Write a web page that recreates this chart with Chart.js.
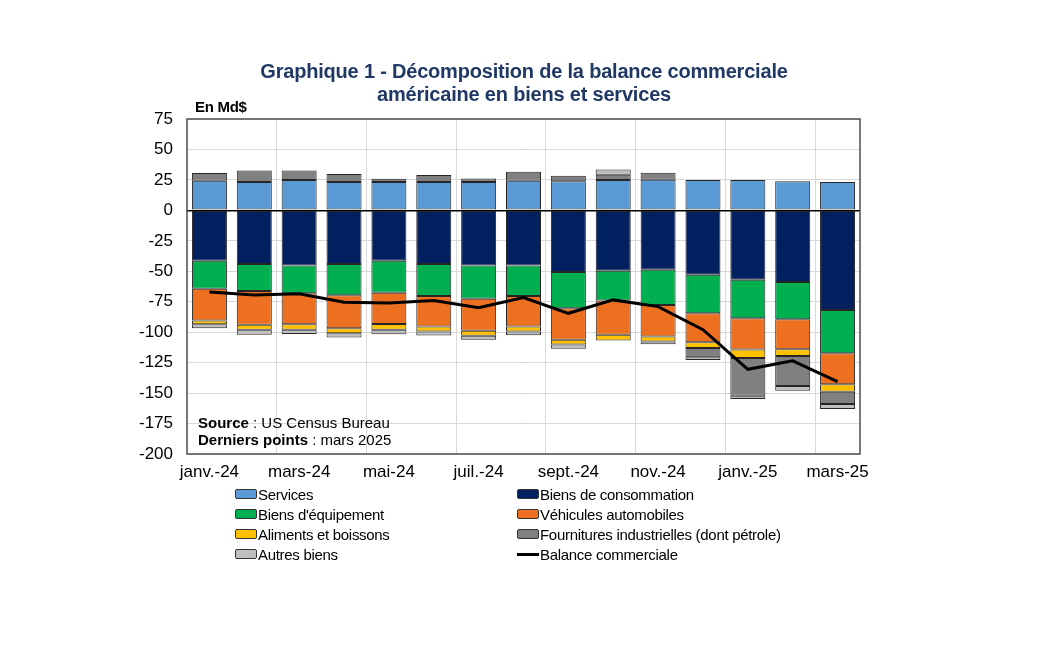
<!DOCTYPE html>
<html lang="fr">
<head>
<meta charset="utf-8">
<script src="https://cdn.jsdelivr.net/npm/chart.js@4.4.1/dist/chart.umd.min.js"></script>
<style>
  html, body { margin: 0; padding: 0; background: #fff; }
  body { width: 1044px; height: 652px; position: relative; overflow: hidden; font-family: "Liberation Sans", Arial, sans-serif; }
  #wrap { position: absolute; left: 0; top: 0; width: 1044px; height: 652px; }
  #title { position: absolute; left: 0; top: 60px; width: 1048px; text-align: center; color: #1F3864;
           font-weight: bold; font-size: 20px; line-height: 23px; letter-spacing: -0.2px; }
  #unit { position: absolute; left: 195px; top: 98px; font-weight: bold; font-size: 15px; letter-spacing: -0.3px; }
  #legend { position: absolute; left: 235px; top: 484px; display: grid; grid-template-columns: 282px 300px;
            font-size: 15px; letter-spacing: -0.3px; }
  .item { height: 20px; display: flex; align-items: center; white-space: nowrap; }
  .sw { width: 20px; height: 8px; border: 1px solid #333; border-radius: 2px; margin-right: 1px; box-sizing: content-box; }
  .ln { width: 22px; height: 3px; background: #000; margin-right: 1px; }
</style>
</head>
<body>
<div id="wrap"><canvas id="chart"></canvas></div>
<div id="title">Graphique 1 - Décomposition de la balance commerciale<br>américaine en biens et services</div>
<div id="unit">En Md$</div>
<div id="legend"></div>
<script>
// données en Md$
const months = ['janv.-24', 'févr.-24', 'mars-24', 'avr.-24', 'mai-24', 'juin-24', 'juil.-24', 'août-24',
                'sept.-24', 'oct.-24', 'nov.-24', 'déc.-24', 'janv.-25', 'févr.-25', 'mars-25'];
const services     = [24.3, 23.2, 24.9, 23.2, 23.2, 23.2, 23.2, 24.3, 23.8, 24.9, 25.1, 24.9, 24.9, 23.8, 23.2];
const consommation = [-41.4, -44.1, -45.3, -44.1, -41.4, -44.1, -45.3, -45.3, -50.5, -49.6, -48.8, -52.9, -57.0, -58.9, -81.7];
const equipement   = [-23.0, -22.0, -22.7, -25.5, -26.3, -26.1, -27.3, -25.1, -29.8, -24.4, -28.8, -31.5, -31.5, -30.4, -35.6];
const vehicules    = [-26.0, -27.9, -25.4, -27.1, -25.5, -25.2, -26.3, -25.0, -26.0, -28.2, -26.0, -23.8, -25.8, -24.7, -25.4];
const aliments     = [-3.0, -4.1, -4.7, -4.1, -4.9, -4.1, -4.1, -4.1, -3.9, -4.7, -4.1, -4.7, -6.8, -5.5, -6.1];
const fournitures  = [6.3, 9.6, 7.9, 6.6, 2.8, 5.8, 3.0, 7.4, 4.6, 4.4, 5.8, -7.6, -31.0, -24.6, -10.1];
const autres       = [-3.3, -4.1, -3.3, -3.6, -3.6, -3.3, -3.3, -3.0, -3.5, 4.3, -2.2, -2.3, -2.7, -3.9, -4.1];
const balance      = [-67.0, -69.5, -68.5, -75.5, -76.0, -74.0, -80.0, -71.5, -84.5, -73.5, -79.0, -98.0, -130.5, -123.5, -140.5];
const yTicks = [75, 50, 25, 0, -25, -50, -75, -100, -125, -150, -175, -200];

const barStyle = { borderColor: '#262626', borderWidth: 1, borderSkipped: false, order: 1,
                   barPercentage: 0.78, categoryPercentage: 1 };

const datasets = [
    { label: 'Services', data: services, backgroundColor: '#5B9BD5', ...barStyle },
    { label: 'Biens de consommation', data: consommation, backgroundColor: '#002060', ...barStyle },
    { label: "Biens d'équipement", data: equipement, backgroundColor: '#00B050', ...barStyle },
    { label: 'Véhicules automobiles', data: vehicules, backgroundColor: '#ED7021', ...barStyle },
    { label: 'Aliments et boissons', data: aliments, backgroundColor: '#FFC000', ...barStyle },
    { label: 'Fournitures industrielles (dont pétrole)', data: fournitures, backgroundColor: '#808080', ...barStyle },
    { label: 'Autres biens', data: autres, backgroundColor: '#BFBFBF', ...barStyle },
    { label: 'Balance commerciale', data: balance, type: 'line', stack: 'balance', borderColor: '#000',
      borderWidth: 3, pointRadius: 0, tension: 0, order: 0 }
];

// cadre + texte source dans la zone du graphique
const framePlugin = {
    id: 'frame',
    afterDraw(chart) {
        const { ctx, chartArea: a } = chart;
        ctx.save();
        ctx.strokeStyle = '#4d4d4d';
        ctx.lineWidth = 1.5;
        ctx.strokeRect(a.left, a.top, a.right - a.left, a.bottom - a.top);
        ctx.fillStyle = '#000';
        ctx.textBaseline = 'middle';
        const lines = [['Source', ' : US Census Bureau'], ['Derniers points', ' : mars 2025']];
        lines.forEach((l, i) => {
            const y = a.bottom - 30 + i * 17;
            ctx.font = 'bold 15px "Liberation Sans", Arial';
            ctx.fillText(l[0], a.left + 11, y);
            const w = ctx.measureText(l[0]).width;
            ctx.font = '15px "Liberation Sans", Arial';
            ctx.fillText(l[1], a.left + 11 + w, y);
        });
        ctx.restore();
    }
};

new Chart(document.getElementById('chart'), {
    type: 'bar',
    data: { labels: months, datasets: datasets },
    options: {
        responsive: true,
        maintainAspectRatio: false,
        animation: false,
        layout: { padding: { left: 127, right: 184, top: 119, bottom: 168 } },
        plugins: { legend: { display: false }, tooltip: { enabled: false } },
        scales: {
            x: {
                stacked: true,
                afterFit(s) { s.height = 30; },
                border: { display: false },
                grid: {
                    drawTicks: false,
                    color: c => (c.index > 0 && c.index % 2 === 0) ? '#d9d9d9' : 'rgba(0,0,0,0)'
                },
                ticks: {
                    autoSkip: false, maxRotation: 0, padding: 8, color: '#000',
                    font: { family: '"Liberation Sans", Arial', size: 17 },
                    callback: (v, i) => i % 2 === 0 ? months[i] : ''
                }
            },
            y: {
                stacked: true,
                min: -200, max: 75,
                afterFit(s) { s.width = 60; },
                afterBuildTicks(s) { s.ticks = yTicks.map(v => ({ value: v })); },
                border: { display: false },
                grid: {
                    drawTicks: false,
                    color: c => c.tick && c.tick.value === 0 ? '#000' : '#d9d9d9',
                    lineWidth: c => c.tick && c.tick.value === 0 ? 1.5 : 1
                },
                ticks: { padding: 14, color: '#000', font: { family: '"Liberation Sans", Arial', size: 17 } }
            }
        }
    },
    plugins: [framePlugin]
});

// légende en deux colonnes
const legend = document.getElementById('legend');
datasets.forEach(d => {
    const it = document.createElement('div');
    it.className = 'item';
    const mark = document.createElement('span');
    if (d.type === 'line') {
        mark.className = 'ln';
    } else {
        mark.className = 'sw';
        mark.style.background = d.backgroundColor;
    }
    it.appendChild(mark);
    it.appendChild(document.createTextNode(d.label));
    legend.appendChild(it);
});
</script>
</body>
</html>
